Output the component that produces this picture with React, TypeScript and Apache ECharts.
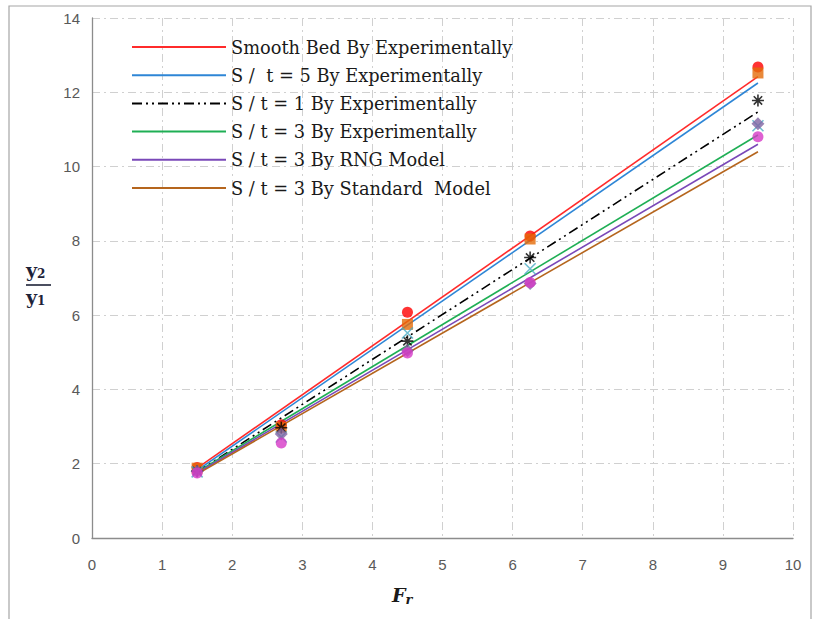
import React, { useEffect, useRef } from "react";
import * as echarts from "echarts";

const pointX = [1.5, 2.7, 4.5, 6.25, 9.5];
const smoothPts = [1.9, 3.05, 6.08, 8.13, 12.68];
const st5Pts = [1.88, 2.98, 5.75, 8.05, 12.52];
const st1Pts = [1.8, 2.97, 5.3, 7.55, 11.78];
const st3Pts = [1.78, 2.72, 5.52, 7.25, 11.1];
const rngPts = [1.8, 2.8, 5.05, 6.85, 11.15];
const stdPts = [1.75, 2.56, 4.98, 6.88, 10.8];

const lineX = [1.5, 9.5];
const smoothLine = [1.88, 12.42];
const st5Line = [1.82, 12.25];
const st1Line = [1.78, 11.47];
const st3Line = [1.78, 10.85];
const rngLine = [1.75, 10.6];
const stdLine = [1.72, 10.4];

const names = [
  "Smooth Bed By Experimentally",
  "S /  t = 5 By Experimentally",
  "S / t = 1 By Experimentally",
  "S / t = 3 By Experimentally",
  "S / t = 3 By RNG Model",
  "S / t = 3 By Standard  Model",
];

const xTicks = [0, 1, 2, 3, 4, 5, 6, 7, 8, 9, 10];
const yTicks = [0, 2, 4, 6, 8, 10, 12, 14];

const pair = (xs: number[], ys: number[]) => xs.map((x, i) => [x, ys[i]]);

export default function App() {
  const ref = useRef<HTMLDivElement>(null);
  useEffect(() => {
    if (!ref.current) return;
    const chart = echarts.init(ref.current, undefined, { renderer: "svg" });
    const lines = [smoothLine, st5Line, st1Line, st3Line, rngLine, stdLine];
    const lineColors = ["#FF2B2B", "#2E86D6", "#000000", "#1FAF55", "#7A48B8", "#B5651D"];
    const lineTypes: any[] = ["solid", "solid", [10, 4, 2, 4, 2, 4], "solid", "solid", "solid"];
    const pts = [smoothPts, st5Pts, st1Pts, st3Pts, rngPts, stdPts];
    const markers = [
      { symbol: "circle", color: "#FF0000", size: 11 },
      { symbol: "rect", color: "#E36C09", size: 11 },
      { symbol: "path://M5 0L5 10M0 5L10 5M1.5 1.5L8.5 8.5M8.5 1.5L1.5 8.5", color: "#000", size: 12, stroke: true },
      { symbol: "path://M0 0L10 10M10 0L0 10", color: "#4BACC6", size: 11, stroke: true },
      { symbol: "diamond", color: "#8064A2", size: 13 },
      { symbol: "circle", color: "#D63AC7", size: 11 },
    ];
    const series: any[] = [];
    lines.forEach((l, i) => {
      series.push({
        name: names[i],
        type: "line",
        data: pair(lineX, l),
        symbol: "none",
        showSymbol: false,
        lineStyle: { color: lineColors[i], width: 1.6, type: lineTypes[i] },
        itemStyle: { color: lineColors[i] },
        z: 3,
      });
    });
    pts.forEach((p, i) => {
      const m = markers[i];
      series.push({
        name: "pts" + i,
        type: "scatter",
        data: pair(pointX, p),
        symbol: m.symbol,
        symbolSize: m.size,
        itemStyle: m.stroke
          ? { color: "rgba(0,0,0,0)", borderColor: m.color, borderWidth: 1.6 }
          : { color: m.color },
        z: 4,
      });
    });
    const tickFont = { color: "#595959", fontSize: 15, fontFamily: "Liberation Sans" };
    chart.setOption({
      animation: false,
      backgroundColor: "#ffffff",
      grid: { left: 92, right: 21, top: 18, bottom: 81, containLabel: false },
      xAxis: {
        type: "value",
        min: xTicks[0],
        max: xTicks[xTicks.length - 1],
        interval: 1,
        axisLine: { show: true, lineStyle: { color: "#8C8C8C", width: 1.3 } },
        axisTick: { show: false },
        axisLabel: { ...tickFont, margin: 19 },
        splitLine: { show: true, lineStyle: { color: "#D0D0D0", type: [8, 4, 2, 4] } },
      },
      yAxis: {
        type: "value",
        min: yTicks[0],
        max: yTicks[yTicks.length - 1],
        interval: 2,
        axisLine: { show: true, lineStyle: { color: "#8C8C8C", width: 1.3 } },
        axisTick: { show: false },
        axisLabel: { ...tickFont, margin: 12 },
        splitLine: { show: true, lineStyle: { color: "#D0D0D0", type: [8, 4, 2, 4] } },
      },
      legend: {
        data: names,
        orient: "vertical",
        left: 126,
        top: 33,
        itemWidth: 94,
        itemHeight: 16,
        itemGap: 10.2,
        itemStyle: { opacity: 0 },
        textStyle: { fontFamily: "DejaVu Serif", fontSize: 17.8, lineHeight: 16, color: "#1a1a1a" },
        selectedMode: false,
      },
      graphic: [
        {
          type: "rect",
          shape: { x: 9, y: 6, width: 802, height: 640 },
          style: { fill: "none", stroke: "#A6A6A6", lineWidth: 1.2 },
          silent: true,
          z: -1,
        },
        {
          type: "text",
          left: 26,
          top: 260,
          style: {
            text: "{a|y}{b|2}",
            rich: {
              a: { fontFamily: "DejaVu Serif", fontWeight: "bold", fontSize: 19, fill: "#1d2238" },
              b: { fontFamily: "DejaVu Serif", fontWeight: "bold", fontSize: 12, fill: "#1d2238", padding: [8, 0, 0, 0] },
            },
          },
        },
        {
          type: "line",
          shape: { x1: 26, y1: 285, x2: 51, y2: 285 },
          style: { stroke: "#1d2238", lineWidth: 1.6 },
        },
        {
          type: "text",
          left: 26,
          top: 287,
          style: {
            text: "{a|y}{b|1}",
            rich: {
              a: { fontFamily: "DejaVu Serif", fontWeight: "bold", fontSize: 19, fill: "#1d2238" },
              b: { fontFamily: "DejaVu Serif", fontWeight: "bold", fontSize: 12, fill: "#1d2238", padding: [8, 0, 0, 0] },
            },
          },
        },
        {
          type: "text",
          left: 392,
          top: 585,
          style: {
            text: "{a|F}{b|r}",
            rich: {
              a: { fontFamily: "DejaVu Serif", fontWeight: "bold", fontStyle: "italic", fontSize: 19, fill: "#1a1a1a" },
              b: { fontFamily: "DejaVu Serif", fontWeight: "bold", fontStyle: "italic", fontSize: 13, fill: "#1a1a1a", padding: [9, 0, 0, 0] },
            },
          },
        },
      ],
      series,
    });
    return () => chart.dispose();
  }, []);
  return (
    <div
      ref={ref}
      style={{ position: "fixed", left: 0, top: 0, width: 814, height: 619, background: "#fff" }}
    />
  );
}
